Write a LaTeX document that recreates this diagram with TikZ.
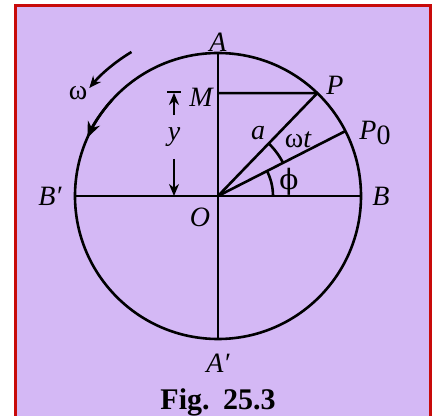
\documentclass[tikz,border=0pt]{standalone}
\usepackage{fontspec}
\setmainfont{Liberation Serif}
\newfontfamily\greekfont{DejaVu Serif}
\usepackage{xcolor}
\usetikzlibrary{arrows.meta}

\definecolor{lavender}{RGB}{212,184,245}
\definecolor{framered}{RGB}{200,10,10}

\begin{document}
\begin{tikzpicture}[
  x=0.5pt, y=0.5pt,
  line/.style={line width=1.3pt},
  arrow/.style={line width=1.3pt, -{Stealth[length=6pt, width=5pt]}},
  bigarrow/.style={line width=1.3pt, -{Stealth[length=8pt, width=6.5pt]}},
  lbl/.style={font=\fontsize{14}{16}\selectfont\itshape, inner sep=1pt},
]
\useasboundingbox (-218,-220) rectangle (215,196);

% Frame
\draw[framered, line width=1.5pt, fill=lavender] (-202,190) rectangle (212,-230);

% Points
\coordinate (O) at (0,0);
\coordinate (A) at (90:143);
\coordinate (Ap) at (270:143);
\coordinate (B) at (0:143);
\coordinate (Bp) at (180:143);
\coordinate (P) at (46:143);
\coordinate (P0) at (27:143);
\coordinate (M) at (0,102.9);

% Circle and diameters
\draw[line] (O) circle (143);
\draw[line] (A) -- (Ap);
\draw[line] (Bp) -- (B);
\draw[line] (O) -- (P);
\draw[line] (O) -- (P0);
\draw[line] (M) -- (P);

% Angles
\draw[line] (0:55) arc (0:27:55);
\draw[line] (27:73) arc (27:46:73);

% Rotation
\draw[arrow] (121:168) arc (121:140:168);
\draw[bigarrow] (138:143) arc (138:156:143);

% Displacement y
\node[lbl] (y) at (-44,59) {y};
\coordinate (ytop) at (-44,103);
\coordinate (ybot) at (-44,0);
\coordinate (tickl) at (-51,104);
\coordinate (tickr) at (-37,104);
\draw[line] (tickl) -- (tickr);
\draw[arrow, shorten <=5pt] (y) -- (ytop);
\draw[arrow, shorten <=5pt] (y) -- (ybot);

% Labels
\node[lbl] (lA) at (0,154) {A};
\node[lbl] (lAp) at (0,-167) {A′};
\node[lbl] (lB) at (163,0) {B};
\node[lbl] (lBp) at (-168,0) {B′};
\node[lbl] (lO) at (-18,-21) {O};
\node[lbl] (lP) at (117,111) {P};
\node[lbl] (lP0) at (157,63) {P\raisebox{-0.45ex}{\upshape 0}};
\node[lbl] (lM) at (-17,99) {M};
\node[lbl, font=\fontsize{14}{16}\selectfont] (lw) at (-140,103) {ω};
\node[lbl] (la) at (40,63) {a};
\node[lbl] (lwt) at (80,56) {\upshape ω\itshape t};
\node[lbl, font=\fontsize{14}{16}\selectfont\greekfont] (lphi) at (71,14) {ϕ};

\node[font=\fontsize{15}{17}\selectfont\bfseries] (fig) at (0,-206) {Fig.\hspace{0.45em}25.3};

\end{tikzpicture}
\end{document}
